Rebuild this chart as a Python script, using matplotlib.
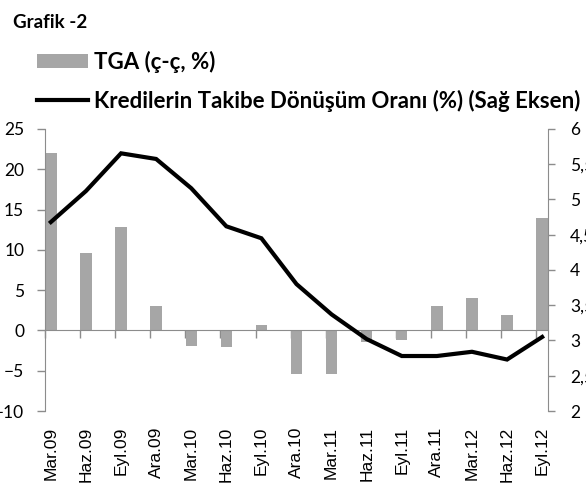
import numpy as np
import matplotlib
matplotlib.use("Agg")
import matplotlib.pyplot as plt
from matplotlib.patches import Patch
from matplotlib.lines import Line2D
from matplotlib.ticker import FuncFormatter

categories = ["Mar.09", "Haz.09", "Eyl.09", "Ara.09", "Mar.10", "Haz.10", "Eyl.10",
              "Ara.10", "Mar.11", "Haz.11", "Eyl.11", "Ara.11", "Mar.12", "Haz.12", "Eyl.12"]
tga = [22.0, 9.6, 12.85, 3.07, -1.95, -2.07, 0.62, -5.4, -5.4, -1.4, -1.25, 3.07, 4.02, 1.9, 14.0]
takip = [4.68, 5.12, 5.655, 5.575, 5.16, 4.62, 4.45, 3.8, 3.37, 3.02, 2.78, 2.78, 2.84, 2.73, 3.05]

left_ticks = [-10, -5, 0, 5, 10, 15, 20, 25]
right_ticks = [2, 2.5, 3, 3.5, 4, 4.5, 5, 5.5, 6]

# date axis with monthly base unit: quarters are 3 months apart
months = np.arange(len(categories)) * 3

AX_GRAY = "#8C8C8C"
BAR_GRAY = "#A6A6A6"

W, H = 586, 488
fig = plt.figure(figsize=(W / 100, H / 100), dpi=100)
ax = fig.add_axes([45 / W, 1 - 411 / H, 503 / W, 282 / H])

ax.bar(months, tga, width=0.97, color=BAR_GRAY, zorder=2)
ax.set_xlim(months[0] - 0.5, months[-1] + 0.5)
ax.set_ylim(left_ticks[0], left_ticks[-1])
ax.set_yticks(left_ticks)
for lab in ax.get_yticklabels():
    lab.set_fontfamily("Lato")
ax.tick_params(axis="y", direction="out", length=6, width=1, color=AX_GRAY,
               labelsize=12.5, pad=9)

ax.spines["top"].set_visible(False)
ax.spines["right"].set_visible(False)
ax.spines["left"].set_color(AX_GRAY)
ax.spines["bottom"].set_color(AX_GRAY)
ax.spines["bottom"].set_position(("data", 0))
ax.set_xticks(months - 0.5)
ax.tick_params(axis="x", direction="out", length=6, width=1, color=AX_GRAY,
               labelbottom=False)

sec = ax.secondary_xaxis(0.0)
sec.set_xticks(months, categories, rotation=90)
sec.tick_params(axis="x", length=0, pad=11.5, labelsize=12.5)
for lab in sec.get_xticklabels():
    lab.set_fontfamily("Liberation Sans")
sec.spines["bottom"].set_visible(False)

ax2 = ax.twinx()
ax2.plot(months, takip, color="black", lw=3, solid_joinstyle="miter", zorder=3)
ax2.set_ylim(right_ticks[0], right_ticks[-1])
ax2.set_yticks(right_ticks)
ax2.yaxis.set_major_formatter(FuncFormatter(lambda v, p: f"{v:g}".replace(".", ",")))
for lab in ax2.get_yticklabels():
    lab.set_fontfamily("Lato")
ax2.tick_params(axis="y", direction="out", length=5, width=1, color=AX_GRAY,
                labelsize=12.5, pad=11)
for s in ["top", "left", "bottom"]:
    ax2.spines[s].set_visible(False)
ax2.spines["right"].set_color(AX_GRAY)

fig.text(13 / W, 1 - 22 / H, "Grafik -2", fontsize=13.5, fontweight="bold",
         fontfamily="Lato", va="center", ha="left")

handles = [Patch(facecolor=BAR_GRAY, edgecolor="none"),
           Line2D([], [], color="black", lw=3)]
labels = ["TGA (ç-ç, %)", "Kredilerin Takibe Dönüşüm Oranı (%) (Sağ Eksen)"]
fig.legend(handles, labels, loc="upper left", bbox_to_anchor=(37 / W, 1 - 51 / H),
           frameon=False, prop={"family": "Lato", "weight": "bold", "size": 16},
           handlelength=2.3, handleheight=0.6, handletextpad=0.27, labelspacing=0.75,
           borderaxespad=0, borderpad=0)

fig.savefig("out.png", dpi=100)
